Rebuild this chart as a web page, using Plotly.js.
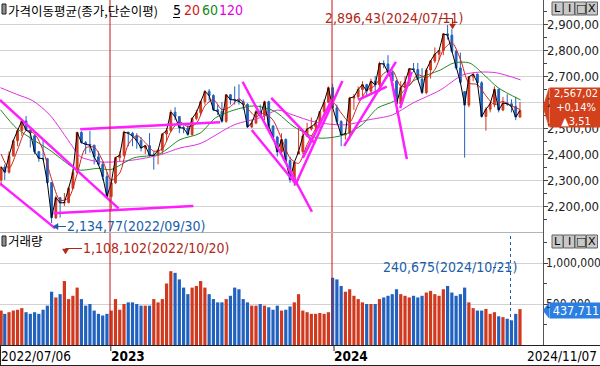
<!DOCTYPE html>
<html><head><meta charset="utf-8">
<script src="https://cdn.plot.ly/plotly-3.0.1.min.js"></script>
<style>html,body{margin:0;padding:0;background:#fff;}#chart{width:600px;height:366px;}</style>
</head><body><div id="chart"></div>
<script>
// ---- weekly price data (KOSPI) ----
const weeks = [
'2022-07-07','2022-07-13','2022-07-20','2022-07-27','2022-08-03','2022-08-10','2022-08-17','2022-08-24','2022-08-31','2022-09-07','2022-09-14','2022-09-21','2022-09-28','2022-10-05','2022-10-12','2022-10-19','2022-10-26','2022-11-02','2022-11-09','2022-11-16','2022-11-23','2022-11-30','2022-12-07','2022-12-14','2022-12-21','2022-12-28',
'2023-01-04','2023-01-11','2023-01-18','2023-01-25','2023-02-01','2023-02-08','2023-02-15','2023-02-22','2023-03-01','2023-03-08','2023-03-15','2023-03-22','2023-03-29','2023-04-05','2023-04-12','2023-04-19','2023-04-26','2023-05-03','2023-05-10','2023-05-17','2023-05-24','2023-05-31','2023-06-07','2023-06-14','2023-06-21','2023-06-28','2023-07-05','2023-07-12','2023-07-19','2023-07-26','2023-08-02','2023-08-09','2023-08-16','2023-08-23','2023-08-30','2023-09-06','2023-09-13','2023-09-20','2023-09-27','2023-10-04','2023-10-11','2023-10-18','2023-10-25','2023-11-01','2023-11-08','2023-11-15','2023-11-22','2023-11-29','2023-12-06','2023-12-13','2023-12-20','2023-12-27',
'2024-01-03','2024-01-10','2024-01-17','2024-01-24','2024-01-31','2024-02-07','2024-02-14','2024-02-21','2024-02-28','2024-03-06','2024-03-13','2024-03-20','2024-03-27','2024-04-03','2024-04-10','2024-04-17','2024-04-24','2024-05-01','2024-05-08','2024-05-15','2024-05-22','2024-05-29','2024-06-05','2024-06-12','2024-06-19','2024-06-26','2024-07-03','2024-07-10','2024-07-17','2024-07-24','2024-07-31','2024-08-07','2024-08-14','2024-08-21','2024-08-28','2024-09-04','2024-09-11','2024-09-18','2024-09-25','2024-10-02','2024-10-09','2024-10-16','2024-10-23','2024-10-30','2024-11-06'];
const open = [2300,2350,2330,2393,2451,2490,2527,2492,2470,2409,2384,2382,2290,2155,2232,2212,2213,2268,2329,2483,2444,2437,2434,2389,2360,2313,
2236,2289,2386,2395,2484,2480,2469,2451,2423,2432,2395,2395,2414,2477,2490,2561,2544,2501,2500,2475,2537,2559,2601,2641,2625,2570,2564,2526,2628,2609,2608,2602,2591,2504,2519,2563,2547,2601,2508,2465,2408,2456,2375,2302,2400,2409,2469,2496,2505,2518,2563,2599,
2655,2578,2525,2473,2479,2615,2620,2648,2667,2642,2680,2666,2748,2746,2714,2681,2592,2656,2677,2728,2725,2688,2636,2723,2758,2784,2798,2862,2857,2795,2731,2640,2588,2697,2707,2674,2544,2572,2593,2649,2569,2596,2593,2583,2542];
const high = [2350,2360,2410,2455,2495,2530,2546,2495,2475,2410,2455,2385,2292,2240,2235,2250,2275,2340,2485,2488,2450,2490,2435,2410,2370,2330,
2290,2390,2410,2490,2485,2485,2480,2465,2435,2480,2410,2420,2480,2500,2570,2580,2545,2510,2520,2540,2570,2605,2645,2650,2630,2590,2600,2630,2630,2660,2668,2610,2595,2530,2570,2590,2605,2605,2510,2470,2480,2460,2390,2370,2502,2490,2520,2540,2530,2565,2610,2660,
2670,2590,2530,2490,2620,2630,2660,2680,2670,2690,2700,2755,2760,2780,2720,2685,2680,2700,2730,2750,2750,2730,2730,2760,2810,2800,2865,2896.43,2880,2800,2790,2640,2700,2710,2710,2680,2580,2600,2660,2650,2620,2630,2610,2620,2600];
const low = [2276,2300,2325,2390,2430,2470,2490,2425,2400,2370,2375,2285,2134.77,2150,2155,2200,2210,2265,2325,2440,2400,2405,2360,2355,2300,2230,
2180,2285,2370,2390,2430,2430,2420,2410,2400,2390,2340,2360,2400,2450,2485,2530,2480,2480,2470,2470,2530,2550,2590,2605,2565,2550,2520,2520,2590,2590,2590,2570,2500,2500,2515,2540,2530,2500,2460,2390,2400,2370,2290,2277,2400,2400,2465,2490,2490,2500,2540,2595,
2575,2515,2430,2455,2470,2570,2610,2620,2620,2630,2640,2640,2730,2700,2675,2560,2590,2650,2670,2715,2685,2630,2630,2690,2750,2760,2780,2840,2790,2725,2670,2386,2580,2680,2660,2540,2490,2560,2580,2560,2565,2585,2560,2530,2540];
const close = [2350,2330,2393,2451,2490,2527,2492,2481,2409,2384,2382,2290,2155,2232,2212,2213,2268,2329,2483,2444,2437,2434,2389,2360,2313,2236,
2289,2386,2395,2484,2480,2469,2451,2423,2432,2395,2395,2414,2477,2490,2561,2544,2501,2500,2475,2537,2559,2601,2641,2625,2570,2564,2526,2628,2609,2608,2602,2591,2504,2519,2563,2547,2601,2508,2465,2408,2456,2375,2302,2368,2409,2469,2496,2505,2518,2563,2599,2655,
2578,2525,2473,2479,2615,2620,2648,2667,2642,2680,2666,2748,2746,2714,2681,2592,2656,2677,2728,2725,2688,2636,2723,2758,2784,2798,2862,2857,2795,2731,2676,2588,2697,2707,2674,2544,2572,2593,2649,2569,2596,2593,2583,2542,2567];
const volume = [420000,380000,400000,420000,430000,450000,400000,380000,400000,380000,430000,480000,650000,580000,620000,780000,560000,600000,700000,560000,480000,500000,420000,380000,360000,380000,
420000,560000,430000,500000,520000,520000,500000,480000,480000,480000,560000,520000,560000,750000,900000,880000,800000,700000,620000,700000,720000,780000,700000,620000,560000,520000,520000,560000,600000,700000,680000,560000,520000,480000,480000,500000,480000,460000,430000,480000,420000,430000,470000,520000,620000,420000,400000,380000,380000,390000,380000,400000,
820000,800000,720000,650000,680000,600000,560000,520000,500000,500000,500000,560000,580000,600000,620000,680000,620000,600000,580000,600000,580000,600000,640000,660000,620000,600000,680000,720000,640000,600000,620000,700000,520000,450000,420000,420000,440000,380000,400000,350000,340000,320000,300000,380000,437711];

// ---- moving averages ----
const ma20Dates = ['2022-07-07','2022-07-20','2022-08-03','2022-08-17','2022-08-31','2022-09-14','2022-09-28','2022-10-12','2022-10-26','2022-11-09','2022-11-23','2022-12-07','2022-12-21','2023-01-04','2023-01-18','2023-02-01','2023-02-15','2023-03-01','2023-03-15','2023-03-29','2023-04-12','2023-04-26','2023-05-10','2023-05-24','2023-06-07','2023-06-21','2023-07-05','2023-07-19','2023-08-02','2023-08-16','2023-08-30','2023-09-13','2023-09-27','2023-10-11','2023-10-25','2023-11-08','2023-11-22','2023-12-06','2023-12-20','2024-01-03','2024-01-17','2024-01-31','2024-02-14','2024-02-28','2024-03-13','2024-03-27','2024-04-10','2024-04-24','2024-05-08','2024-05-22','2024-06-05','2024-06-19','2024-07-03','2024-07-17','2024-07-31','2024-08-14','2024-08-28','2024-09-11','2024-09-25','2024-10-09','2024-10-23','2024-11-06'];
const ma20 = [2400,2345,2416,2490,2477,2414,2303,2222,2231,2323,2423,2426,2374,2300,2327,2436,2471,2444,2411,2420,2486,2524,2505,2518,2585,2609,2571,2582,2612,2576,2544,2558,2530,2459,2385,2364,2436,2497,2546,2599,2558,2523,2591,2644,2664,2710,2722,2661,2663,2705,2693,2725,2800,2828,2765,2673,2667,2624,2590,2602,2585,2571];
const ma60Dates = ['2022-07-06','2022-08-01','2022-09-01','2022-09-25','2022-11-01','2022-11-14','2022-12-15','2023-01-03','2023-02-10','2023-03-24','2023-04-27','2023-05-30','2023-06-25','2023-07-25','2023-08-27','2023-09-29','2023-11-01','2023-12-09','2024-01-06','2024-01-23','2024-02-20','2024-03-17','2024-04-14','2024-05-14','2024-06-28','2024-07-20','2024-08-15','2024-09-10','2024-10-01','2024-11-07'];
const ma60 = [2570,2500,2450,2415,2350,2338,2345,2340,2385,2400,2455,2480,2540,2569,2585,2565,2504,2462,2465,2475,2512,2577,2605,2680,2723,2750,2750,2700,2655,2608];
const ma120Dates = ['2022-07-06','2022-08-01','2022-08-28','2022-09-25','2022-11-01','2022-11-14','2022-12-15','2023-01-03','2023-02-10','2023-03-24','2023-04-27','2023-05-30','2023-07-25','2023-09-09','2023-10-05','2023-10-30','2023-12-05','2024-01-23','2024-03-01','2024-04-10','2024-05-14','2024-06-28','2024-08-04','2024-09-01','2024-09-29','2024-11-07'];
const ma120 = [2655,2630,2605,2550,2430,2390,2370,2369,2377,2396,2423,2440,2512,2542,2569,2550,2523,2512,2531,2550,2596,2646,2704,2715,2712,2685];

// ---- drawn trend lines (start / end points) ----
const trendStart = [['2022-07-05',2608],['2022-07-05',2287],['2022-10-01',2172],['2022-11-14',2495],['2023-08-08',2678],['2023-08-23',2492],['2023-09-24',2616],['2023-11-03',2283],['2023-11-15',2385],['2024-01-22',2431],['2024-02-14',2608],['2024-04-06',2716],['2024-04-23',2576]];
const trendEnd   = [['2023-01-16',2191],['2022-10-04',2114],['2023-05-19',2200],['2023-07-02',2522],['2023-11-30',2178],['2023-11-05',2281],['2023-12-05',2441],['2024-01-19',2681],['2024-01-03',2615],['2024-04-16',2754],['2024-04-01',2659],['2024-05-04',2381],['2024-05-12',2716]];

const priceTicks = [2200,2300,2400,2500,2600,2700,2800,2900];
const priceTickText = ['2,200,00','2,300,00','2,400,00','2,500,00','2,600,00','2,700,00','2,800,00','2,900,00'];
const volTicks = [500000,1000000];
const volTickText = ['500,000','1,000,000'];
const yearLines = ['2023-01-02','2024-01-02'];

// ---------------- drawing ----------------
const W=600,H=366;
const PX=x=>x/W, PY=y=>1-y/H;
const RED='#d0391e', BLUE='#2162c0';
const KR='Noto Sans CJK KR, sans-serif';
const NUM='Liberation Sans Narrow, DejaVu Sans Condensed, sans-serif';

const tx=[], ty=[];
trendStart.forEach((s,i)=>{tx.push(s[0],trendEnd[i][0],null);ty.push(s[1],trendEnd[i][1],null);});

const volColors = close.map((c,i)=> c>=open[i]?RED:BLUE);

const traces = [
 {type:'bar',x:weeks,y:volume,xaxis:'x',yaxis:'y2',marker:{color:volColors,line:{width:0}},hoverinfo:'skip'},
 {type:'candlestick',x:weeks,open:open,high:high,low:low,close:close,xaxis:'x',yaxis:'y',
  increasing:{line:{color:RED,width:1},fillcolor:RED},decreasing:{line:{color:BLUE,width:1},fillcolor:BLUE},hoverinfo:'skip'},
 {type:'scatter',mode:'lines',x:ma120Dates,y:ma120,line:{color:'#e030e0',width:1,shape:'spline',smoothing:0.8},hoverinfo:'skip'},
 {type:'scatter',mode:'lines',x:ma60Dates,y:ma60,line:{color:'#1f8a1f',width:1,shape:'spline',smoothing:0.8},hoverinfo:'skip'},
 {type:'scatter',mode:'lines',x:ma20Dates,y:ma20,line:{color:'#d02020',width:1,shape:'spline',smoothing:0.8},hoverinfo:'skip'},
 {type:'scatter',mode:'lines',x:weeks,y:close,line:{color:'#000',width:1},hoverinfo:'skip'},
 {type:'scatter',mode:'lines',x:tx,y:ty,line:{color:'#ff1eff',width:2.5},connectgaps:false,hoverinfo:'skip'}
];

const shapes=[];
const line=(x0,y0,x1,y1,color,w,dash)=>shapes.push({type:'line',xref:'paper',yref:'paper',x0:PX(x0),y0:PY(y0),x1:PX(x1),y1:PY(y1),line:{color:color,width:w||1,dash:dash||'solid'},layer:'above'});
const rect=(x0,y0,x1,y1,fill,lc)=>shapes.push({type:'rect',xref:'paper',yref:'paper',x0:PX(x0),y0:PY(y0),x1:PX(x1),y1:PY(y1),fillcolor:fill,line:{color:lc||fill,width:1},layer:'above'});
const path=(pts,fill)=>{const p=pts.map((q,i)=>(i?'L':'M')+PX(q[0])+','+PY(q[1])).join(' ')+' Z';shapes.push({type:'path',xref:'paper',yref:'paper',path:p,fillcolor:fill,line:{color:fill,width:0.5},layer:'above'});};

// year separators
yearLines.forEach(d=>shapes.push({type:'line',xref:'x',yref:'paper',x0:d,x1:d,y0:PY(345),y1:1,line:{color:'#c81414',width:1},layer:'above'}));
// panel separators and bottom band
line(0,232.5,543,232.5,'#b4b4b4',1);
line(0,345.5,600,345.5,'#222',1);
line(0,365.5,600,365.5,'#222',1);
line(0.5,345.5,0.5,366,'#222',1);
line(110.8,346,110.8,351,'#222',1);
line(334,346,334,351,'#222',1);
// header icons
rect(2,4,6,14,'#909090','#222');
rect(2,236,6,246,'#909090','#222');
line(173,17.5,180,17.5,'#000',1);
// annotation arrows
line(439,18.5,452.5,18.5,'#b02818',1);
line(452.5,18.5,452.5,25,'#b02818',1);
path([[449.5,24],[455.5,24],[452.5,29]],'#b02818');
line(56,226.5,66,226.5,'#1a5ea8',1);
path([[53,226.5],[58,223.5],[58,229.5]],'#1a5ea8');
line(65.5,248.5,82,248.5,'#b02818',1);
path([[62.5,249],[68.5,249],[65.5,254]],'#b02818');
line(493,267.5,510.5,267.5,'#1a5ea8',1,'dot');
line(510.5,236,510.5,322,'#1a5ea8',1,'dot');
// flag tips
path([[543,107],[549,88],[549,127]],'#d2401c');
path([[543,310.5],[549,303],[549,318]],'#2b7fe3');
// buttons
[[2,15],[235,248]].forEach(r=>{[552,563.5,575,586.5].forEach(x=>rect(x,r[0],x+11,r[1],'#c8c8c8','#606060'));});

const anns=[];
const ann=(t,x,y,o)=>anns.push(Object.assign({text:t,xref:'paper',yref:'paper',x:PX(x),y:PY(y),xanchor:'left',yanchor:'middle',showarrow:false,borderpad:0,font:{family:NUM,size:14,color:'#000'}},o||{}));
// right axis labels (placed on the axes' own scales)
priceTicks.forEach((v,i)=>anns.push({text:priceTickText[i],xref:'paper',yref:'y',x:PX(546),y:v,xanchor:'left',yanchor:'middle',showarrow:false,borderpad:0,font:{family:NUM,size:13,color:'#222'}}));
volTicks.forEach((v,i)=>anns.push({text:volTickText[i],xref:'paper',yref:'y2',x:PX(545),y:v,xanchor:'left',yanchor:'middle',showarrow:false,borderpad:0,font:{family:NUM,size:12,color:'#222'}}));
ann('가격이동평균(종가,단순이평)',7,10,{font:{family:KR,size:12.5,color:'#000'}});
ann('5',172,10);
ann('20',183,10,{font:{family:NUM,size:14,color:'#d01818'}});
ann('60',201,10,{font:{family:NUM,size:14,color:'#18881a'}});
ann('120',218,10,{font:{family:NUM,size:14,color:'#e000e0'}});
ann('거래량',7,241,{font:{family:KR,size:12.5,color:'#000'}});
ann('2,896,43(2024/07/11)',324,18,{font:{family:NUM,size:14,color:'#b02818'}});
ann('2,134,77(2022/09/30)',66,226,{font:{family:NUM,size:14,color:'#1a5ea8'}});
ann('1,108,102(2022/10/20)',82,248,{font:{family:NUM,size:14,color:'#b02818'}});
ann('240,675(2024/10/21)',382,267,{font:{family:NUM,size:14,color:'#1a5ea8'}});
ann('2022/07/06',0,356,{font:{family:NUM,size:13.5,color:'#000'}});
ann('<b>2023</b>',110,356,{font:{family:NUM,size:13.5,color:'#000'}});
ann('<b>2024</b>',333,356,{font:{family:NUM,size:13.5,color:'#000'}});
ann('2024/11/07',598,356,{xanchor:'right',font:{family:NUM,size:13.5,color:'#000'}});
// flags drawn last so they cover the axis labels behind them
ann('2,567,02<br>+0,14%<br>▲3,51',548.5,107.5,{width:52,height:39,align:'center',valign:'middle',bgcolor:'#d2401c',font:{family:NUM,size:11,color:'#fff'}});
ann('437,711',548.5,310.5,{width:52,height:15,align:'center',bgcolor:'#2b7fe3',font:{family:NUM,size:12.5,color:'#fff'}});
[[8.5],[241.5]].forEach(r=>{['L','I','□','X'].forEach((g,i)=>ann(g,557.5+i*11.5,r[0],{xanchor:'center',font:{family:'DejaVu Sans, sans-serif',size:11,color:'#000'}}));});

const layout={
 width:W,height:H,margin:{l:0,r:0,t:0,b:0},paper_bgcolor:'#fff',plot_bgcolor:'#fff',showlegend:false,bargap:0.12,
 xaxis:{domain:[0,543/600],type:'date',range:['2022-07-05 04:00','2024-12-13 20:00'],showgrid:false,showticklabels:false,ticks:'',zeroline:false,showline:false,rangeslider:{visible:false},anchor:'y2',fixedrange:true},
 yaxis:{domain:[PY(232),1],range:[2100,2992.3],side:'right',anchor:'x',tickmode:'array',tickvals:priceTicks,showticklabels:false,ticks:'outside',ticklen:4,tickcolor:'#444',
  showline:true,linecolor:'#555',linewidth:1,gridcolor:'#d2d2d2',zeroline:false,fixedrange:true,
  minor:{tickmode:'linear',tick0:2050,dtick:100,ticks:'outside',ticklen:3,tickcolor:'#444',showgrid:false}},
 yaxis2:{domain:[PY(345),PY(232)],range:[0,1378000],side:'right',anchor:'x',tickmode:'array',tickvals:volTicks,showticklabels:false,ticks:'outside',ticklen:4,tickcolor:'#444',
  showline:true,linecolor:'#555',linewidth:1,gridcolor:'#d2d2d2',zeroline:false,fixedrange:true,
  minor:{tickmode:'linear',tick0:0,dtick:250000,ticks:'outside',ticklen:3,tickcolor:'#444',showgrid:false}},
 shapes:shapes,annotations:anns
};
Plotly.newPlot('chart',traces,layout,{staticPlot:true,displayModeBar:false});
</script></body></html>
